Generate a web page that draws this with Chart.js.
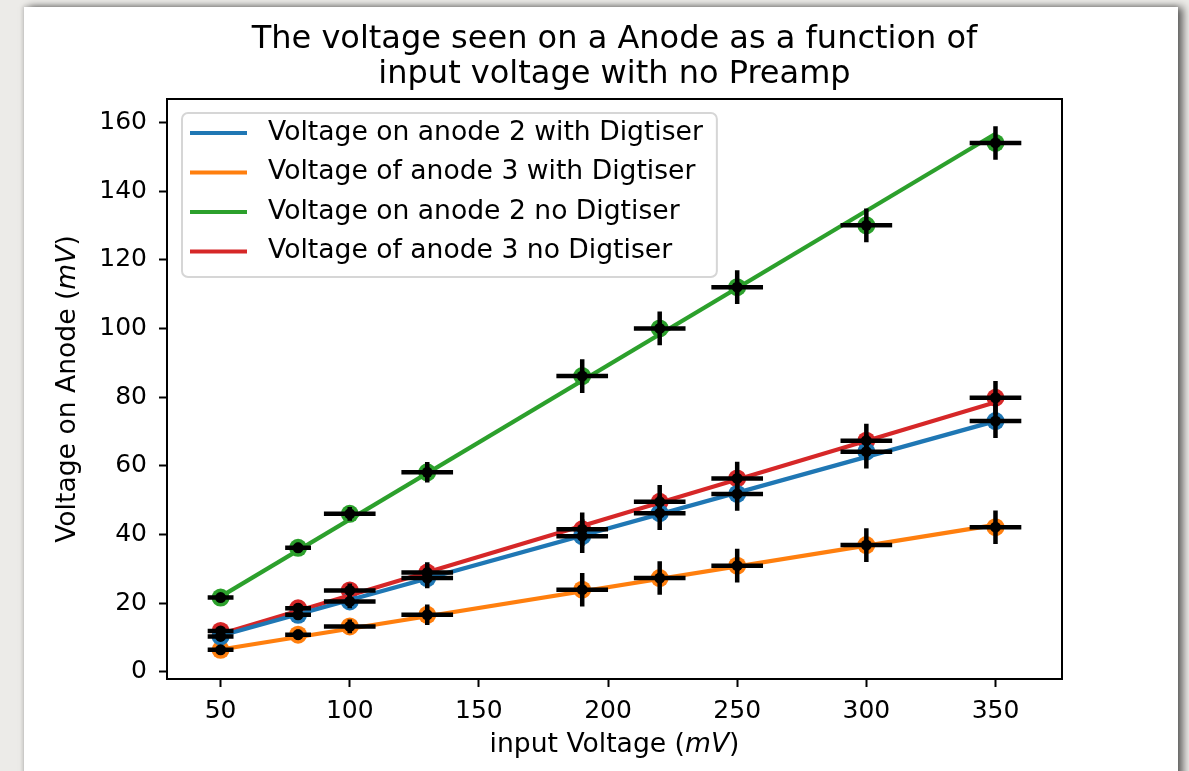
<!DOCTYPE html>
<html lang="en">
<head>
<meta charset="UTF-8">
<title>The voltage seen on a Anode as a function of input voltage with no Preamp</title>
<script src="https://cdn.jsdelivr.net/npm/chart.js"></script>
<style>
    * { margin: 0; padding: 0; box-sizing: border-box; }
    body {
        width: 1189px;
        height: 771px;
        overflow: hidden;
        position: relative;
        background: #ecebe8; /* paper-ish backdrop */
    }
    .card {
        position: absolute;
        left: 24px;
        top: 7px;
        width: 1154px;
        height: 800px;
        background: #fff;
        box-shadow: 5px 0 8px rgba(0, 0, 0, 0.6), -1px -1px 4px rgba(0, 0, 0, 0.15);
    }
    #chart { position: absolute; left: 0; top: 0; }
</style>
</head>
<body>
<div class="card"></div>
<canvas id="chart" width="1189" height="771"></canvas>

<script>
    // input voltage (mV) for every measurement
    const inputVoltage = [50, 80, 100, 130, 190, 220, 250, 300, 350];

    // measured anode voltage (mV)
    const anode2Dig   = [10.3, 16.6, 20.5, 27.3, 39.5, 46.2, 51.8, 64.1, 73.0];
    const anode3Dig   = [6.4, 10.8, 13.2, 16.6, 23.9, 27.3, 30.9, 36.9, 42.1];
    const anode2NoDig = [21.6, 36.1, 46.0, 58.1, 86.1, 100.0, 112.0, 130.0, 154.0];
    const anode3NoDig = [11.9, 18.5, 23.7, 28.9, 41.5, 49.5, 56.3, 67.3, 79.8];

    // error bars
    const xErr = [5, 5, 10, 10, 10, 10, 10, 10, 10];
    const yErr = [1, 1.5, 2, 3, 4.9, 4.9, 4.9, 4.9, 4.9];

    // straight fit lines, read at both ends
    const fitX = [50, 350];
    const anode2DigFit   = [10.5, 73.0];
    const anode3DigFit   = [6.5, 42.8];
    const anode2NoDigFit = [21.9, 156.7];
    const anode3NoDigFit = [11.0, 78.5];

    const xTicks = [50, 100, 150, 200, 250, 300, 350];
    const yTicks = [0, 20, 40, 60, 80, 100, 120, 140, 160];

    const FONT = '"DejaVu Sans", sans-serif';
    const LABEL_SIZE = 26.6;

    const series = [
        { label: 'Voltage on anode 2 with Digtiser', color: '#1f77b4', y: anode2Dig, fit: anode2DigFit },
        { label: 'Voltage of anode 3 with Digtiser', color: '#ff7f0e', y: anode3Dig, fit: anode3DigFit },
        { label: 'Voltage on anode 2 no Digtiser', color: '#2ca02c', y: anode2NoDig, fit: anode2NoDigFit },
        { label: 'Voltage of anode 3 no Digtiser', color: '#d62728', y: anode3NoDig, fit: anode3NoDigFit }
    ];

    const pts = (xs, ys) => xs.map((x, i) => ({ x: x, y: ys[i] }));

    const datasets = [];
    series.forEach(s => {
        // fit line
        datasets.push({
            type: 'line', label: s.label, inLegend: true,
            data: pts(fitX, s.fit),
            borderColor: s.color, borderWidth: 4.2,
            pointRadius: 0, fill: false, tension: 0, order: 2
        });
        // coloured data points
        datasets.push({
            type: 'scatter', label: s.label + ' data',
            data: pts(inputVoltage, s.y),
            backgroundColor: s.color, borderWidth: 0,
            pointRadius: 9, order: 3
        });
        // black errorbar markers
        datasets.push({
            type: 'scatter', label: s.label + ' errors',
            data: pts(inputVoltage, s.y),
            errX: xErr, errY: yErr,
            backgroundColor: '#000', borderWidth: 0,
            pointRadius: 5.5, order: 1
        });
    });

    // errorbars (no caps) drawn under the black markers
    const errorBars = {
        id: 'errorBars',
        beforeDatasetDraw(chart, args) {
            const ds = chart.data.datasets[args.index];
            if (!ds.errX) return;
            const xs = chart.scales.x, ys = chart.scales.y, ctx = chart.ctx;
            ctx.save();
            ctx.strokeStyle = '#000';
            ctx.lineWidth = 4.5;
            ds.data.forEach((p, i) => {
                const px = xs.getPixelForValue(p.x), py = ys.getPixelForValue(p.y);
                ctx.beginPath();
                ctx.moveTo(xs.getPixelForValue(p.x - ds.errX[i]), py);
                ctx.lineTo(xs.getPixelForValue(p.x + ds.errX[i]), py);
                ctx.moveTo(px, ys.getPixelForValue(p.y - ds.errY[i]));
                ctx.lineTo(px, ys.getPixelForValue(p.y + ds.errY[i]));
                ctx.stroke();
            });
            ctx.restore();
        }
    };

    // full box round the plot + axis titles with italic units
    const frameAndTitles = {
        id: 'frameAndTitles',
        afterDatasetsDraw(chart) {
            const ctx = chart.ctx, a = chart.chartArea;
            ctx.save();
            ctx.strokeStyle = '#000';
            ctx.lineWidth = 2;
            ctx.strokeRect(a.left, a.top, a.right - a.left, a.bottom - a.top);

            const parts = (pre) => [[pre, 'normal'], ['mV', 'italic'], [')', 'normal']];
            const drawParts = (segs, cx, cy) => {
                let total = 0;
                segs.forEach(s => { ctx.font = s[1] + ' ' + LABEL_SIZE + 'px ' + FONT; total += ctx.measureText(s[0]).width; });
                let x = cx - total / 2;
                ctx.fillStyle = '#000';
                ctx.textBaseline = 'middle';
                ctx.textAlign = 'left';
                segs.forEach(s => {
                    ctx.font = s[1] + ' ' + LABEL_SIZE + 'px ' + FONT;
                    ctx.fillText(s[0], x, cy);
                    x += ctx.measureText(s[0]).width;
                });
            };
            drawParts(parts('input Voltage ('), (a.left + a.right) / 2, 745);

            ctx.translate(68, (a.top + a.bottom) / 2);
            ctx.rotate(-Math.PI / 2);
            drawParts(parts('Voltage on Anode ('), 0, 0);
            ctx.restore();
        }
    };

    // matplotlib style legend box in the upper left
    const boxLegend = {
        id: 'boxLegend',
        afterDraw(chart) {
            const ctx = chart.ctx;
            const items = chart.data.datasets.filter(d => d.inLegend);
            ctx.save();
            ctx.font = LABEL_SIZE + 'px ' + FONT;
            const textX = 268, rowY = 133, rowH = 39.5;
            const w = Math.max(...items.map(d => ctx.measureText(d.label).width));
            const bx = 182, by = 113, bw = textX + w + 14 - bx, bh = 164, r = 6;
            ctx.beginPath();
            ctx.moveTo(bx + r, by);
            ctx.lineTo(bx + bw - r, by);
            ctx.arcTo(bx + bw, by, bx + bw, by + r, r);
            ctx.lineTo(bx + bw, by + bh - r);
            ctx.arcTo(bx + bw, by + bh, bx + bw - r, by + bh, r);
            ctx.lineTo(bx + r, by + bh);
            ctx.arcTo(bx, by + bh, bx, by + bh - r, r);
            ctx.lineTo(bx, by + r);
            ctx.arcTo(bx, by, bx + r, by, r);
            ctx.closePath();
            ctx.fillStyle = 'rgba(255,255,255,0.8)';
            ctx.fill();
            ctx.strokeStyle = '#d6d6d6';
            ctx.lineWidth = 2;
            ctx.stroke();

            items.forEach((d, i) => {
                const y = rowY + i * rowH;
                ctx.strokeStyle = d.borderColor;
                ctx.lineWidth = 4.2;
                ctx.beginPath();
                ctx.moveTo(190, y);
                ctx.lineTo(247, y);
                ctx.stroke();
                ctx.fillStyle = '#000';
                ctx.textBaseline = 'middle';
                ctx.fillText(d.label, textX, y);
            });
            ctx.restore();
        }
    };

    const axisCommon = {
        type: 'linear',
        grid: { drawOnChartArea: false, drawTicks: true, tickLength: 8, tickWidth: 2, tickColor: '#000' },
        border: { display: true, color: '#000', width: 2 },
        ticks: { color: '#000', font: { family: FONT, size: 25 }, autoSkip: false, maxRotation: 0 }
    };

    new Chart(document.getElementById('chart'), {
        type: 'scatter',
        data: { datasets: datasets },
        options: {
            responsive: false,
            animation: false,
            events: [],
            devicePixelRatio: 1,
            layout: { padding: { left: 0, right: 127, top: 0, bottom: 0 } },
            scales: {
                x: Object.assign({}, axisCommon, {
                    min: 29.25, max: 375.75,
                    ticks: Object.assign({}, axisCommon.ticks, { padding: 9 }),
                    afterBuildTicks: s => { s.ticks = xTicks.map(v => ({ value: v })); },
                    afterFit: s => { s.height = 92; }
                }),
                y: Object.assign({}, axisCommon, {
                    min: -2.1, max: 166.8,
                    ticks: Object.assign({}, axisCommon.ticks, { padding: 12 }),
                    afterBuildTicks: s => { s.ticks = yTicks.map(v => ({ value: v })); },
                    afterFit: s => { s.width = 167; }
                })
            },
            plugins: {
                legend: { display: false },
                tooltip: { enabled: false },
                title: {
                    display: true,
                    fullSize: false,
                    text: ['The voltage seen on a Anode as a function of', 'input voltage with no Preamp'],
                    color: '#000',
                    font: { family: FONT, size: 32, weight: 'normal', lineHeight: '35px' },
                    padding: { top: 22, bottom: 7 }
                }
            }
        },
        plugins: [errorBars, frameAndTitles, boxLegend]
    });
</script>
</body>
</html>
